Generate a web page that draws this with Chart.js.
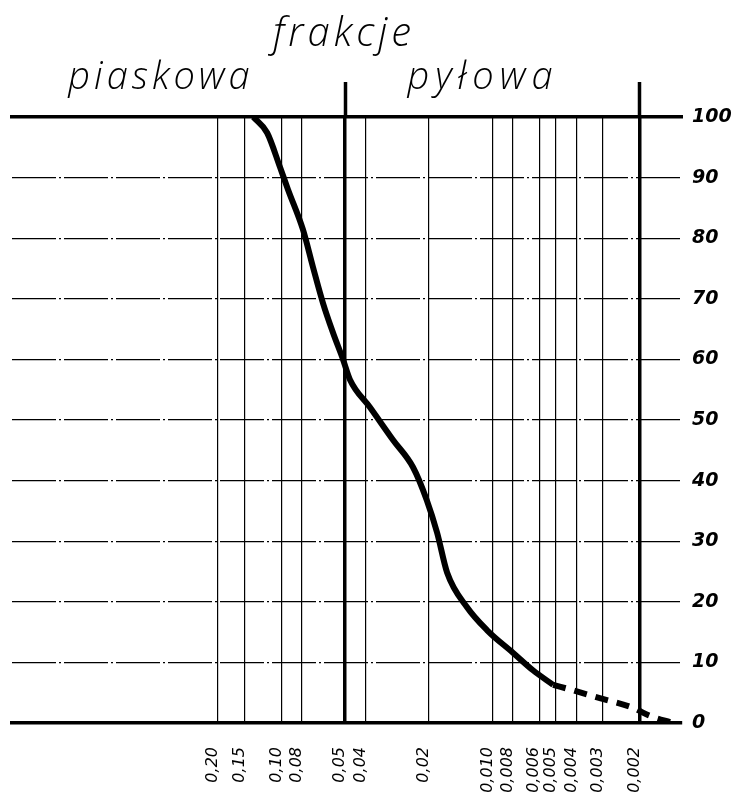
<!DOCTYPE html>
<html>
<head>
<meta charset="utf-8">
<script src="https://cdn.jsdelivr.net/npm/chart.js@4"></script>
<style>
  html, body { margin: 0; padding: 0; background: #fff; }
  #wrap { position: relative; width: 735px; height: 794px; }
</style>
</head>
<body>
<div id="wrap"><canvas id="c" width="735" height="794"></canvas></div>
<script>
// ---- data ----
const title = "frakcje";
const leftLabel = "piaskowa";
const rightLabel = "pyłowa";

const tickValues = [0.20, 0.15, 0.10, 0.08, 0.05, 0.04, 0.02, 0.010, 0.008, 0.006, 0.005, 0.004, 0.003, 0.002];
const tickLabels = ["0,20", "0,15", "0,10", "0,08", "0,05", "0,04", "0,02", "0,010", "0,008", "0,006", "0,005", "0,004", "0,003", "0,002"];
const boundaryValues = [0.05, 0.002];

// measured curve (grain diameter in mm, percent finer)
const solidDiam = [0.136, 0.117, 0.1016, 0.0931, 0.0791, 0.0709, 0.0636, 0.0570, 0.0511, 0.0473, 0.0381, 0.0296, 0.0238, 0.0205, 0.0183, 0.0164, 0.0132, 0.0106, 0.0080, 0.00643, 0.00516];
const solidPct  = [100,   97.4,  91.7,   88,     81.4,   75.2,   69.3,   64.4,   60,     56.6,   52.1,   46.7,   42.2,   36.8,   31.4,   24.8,   19.1,   15.3,   11.6,   8.7,     6.3];
// extrapolated (dashed) part
const dashDiam = [0.00516, 0.00416, 0.00310, 0.00216, 0.0018, 0.0014];
const dashPct  = [6.3,     5.4,     4.1,     2.5,     1.2,    0];

const xMin = 0.001264, xMax = 1.894;

const toXY = (xs, ys) => xs.map((x, i) => ({ x: x, y: ys[i] }));

const headings = {
  id: 'headings',
  afterDraw(chart) {
    const ctx = chart.ctx;
    ctx.save();
    ctx.fillStyle = '#000';
    ctx.textAlign = 'center';
    ctx.textBaseline = 'alphabetic';
    ctx.font = 'italic 300 40px "Open Sans", "DejaVu Sans", sans-serif';
    ctx.letterSpacing = '4px';
    ctx.fillText(title, 344, 46);
    ctx.font = 'italic 300 38px "Open Sans", "DejaVu Sans", sans-serif';
    ctx.letterSpacing = '4px';
    ctx.fillText(leftLabel, 161, 89);
    ctx.letterSpacing = '6px';
    ctx.fillText(rightLabel, 483, 89);
    ctx.restore();
  }
};

new Chart(document.getElementById('c'), {
  type: 'line',
  data: {
    datasets: [
      {
        data: toXY(solidDiam, solidPct),
        borderColor: '#000',
        borderWidth: 6,
        pointRadius: 0,
        cubicInterpolationMode: 'monotone',
        fill: false
      },
      {
        data: toXY(dashDiam, dashPct),
        borderColor: '#000',
        borderWidth: 6,
        borderDash: [13, 9],
        pointRadius: 0,
        cubicInterpolationMode: 'monotone',
        fill: false
      }
    ]
  },
  options: {
    responsive: false,
    animation: false,
    events: [],
    layout: { padding: { left: 12, right: 0, top: 82, bottom: 0 } },
    plugins: { legend: { display: false }, tooltip: { enabled: false }, title: { display: false } },
    scales: {
      x: {
        type: 'logarithmic',
        position: 'bottom',
        reverse: true,
        min: xMin,
        max: xMax,
        afterBuildTicks: (scale) => { scale.ticks = tickValues.map(v => ({ value: v })); },
        afterFit: (scale) => { scale.height = 71; },
        grid: {
          color: '#000',
          lineWidth: (c) => (c.tick && boundaryValues.includes(c.tick.value)) ? 3.5 : 1.2,
          drawTicks: false
        },
        border: { display: true, color: '#000', width: 3.5 },
        ticks: {
          autoSkip: false,
          maxRotation: 90,
          minRotation: 90,
          padding: 24,
          labelOffset: -5,
          color: '#000',
          font: { family: '"DejaVu Sans", sans-serif', style: 'italic', size: 16 },
          callback: (v, i) => tickLabels[i]
        }
      },
      xTop: {
        type: 'logarithmic',
        position: 'top',
        reverse: true,
        min: xMin,
        max: xMax,
        afterBuildTicks: (scale) => { scale.ticks = boundaryValues.map(v => ({ value: v })); },
        grid: {
          drawOnChartArea: false,
          drawTicks: true,
          tickLength: 35,
          tickWidth: 3.5,
          tickColor: '#000',
          color: '#000'
        },
        border: { display: true, color: '#000', width: 3.5 },
        ticks: { display: false }
      },
      y: {
        type: 'linear',
        position: 'right',
        min: 0,
        max: 100,
        afterFit: (scale) => { scale.width = 53; },
        grid: { color: '#000', lineWidth: 1.3, drawTicks: false },
        border: { display: false, dash: [44, 3, 2, 3] },
        ticks: {
          stepSize: 10,
          padding: 10,
          color: '#000',
          font: { family: '"DejaVu Sans", sans-serif', style: 'italic', weight: 'bold', size: 19 }
        }
      }
    }
  },
  plugins: [headings]
});
</script>
</body>
</html>
